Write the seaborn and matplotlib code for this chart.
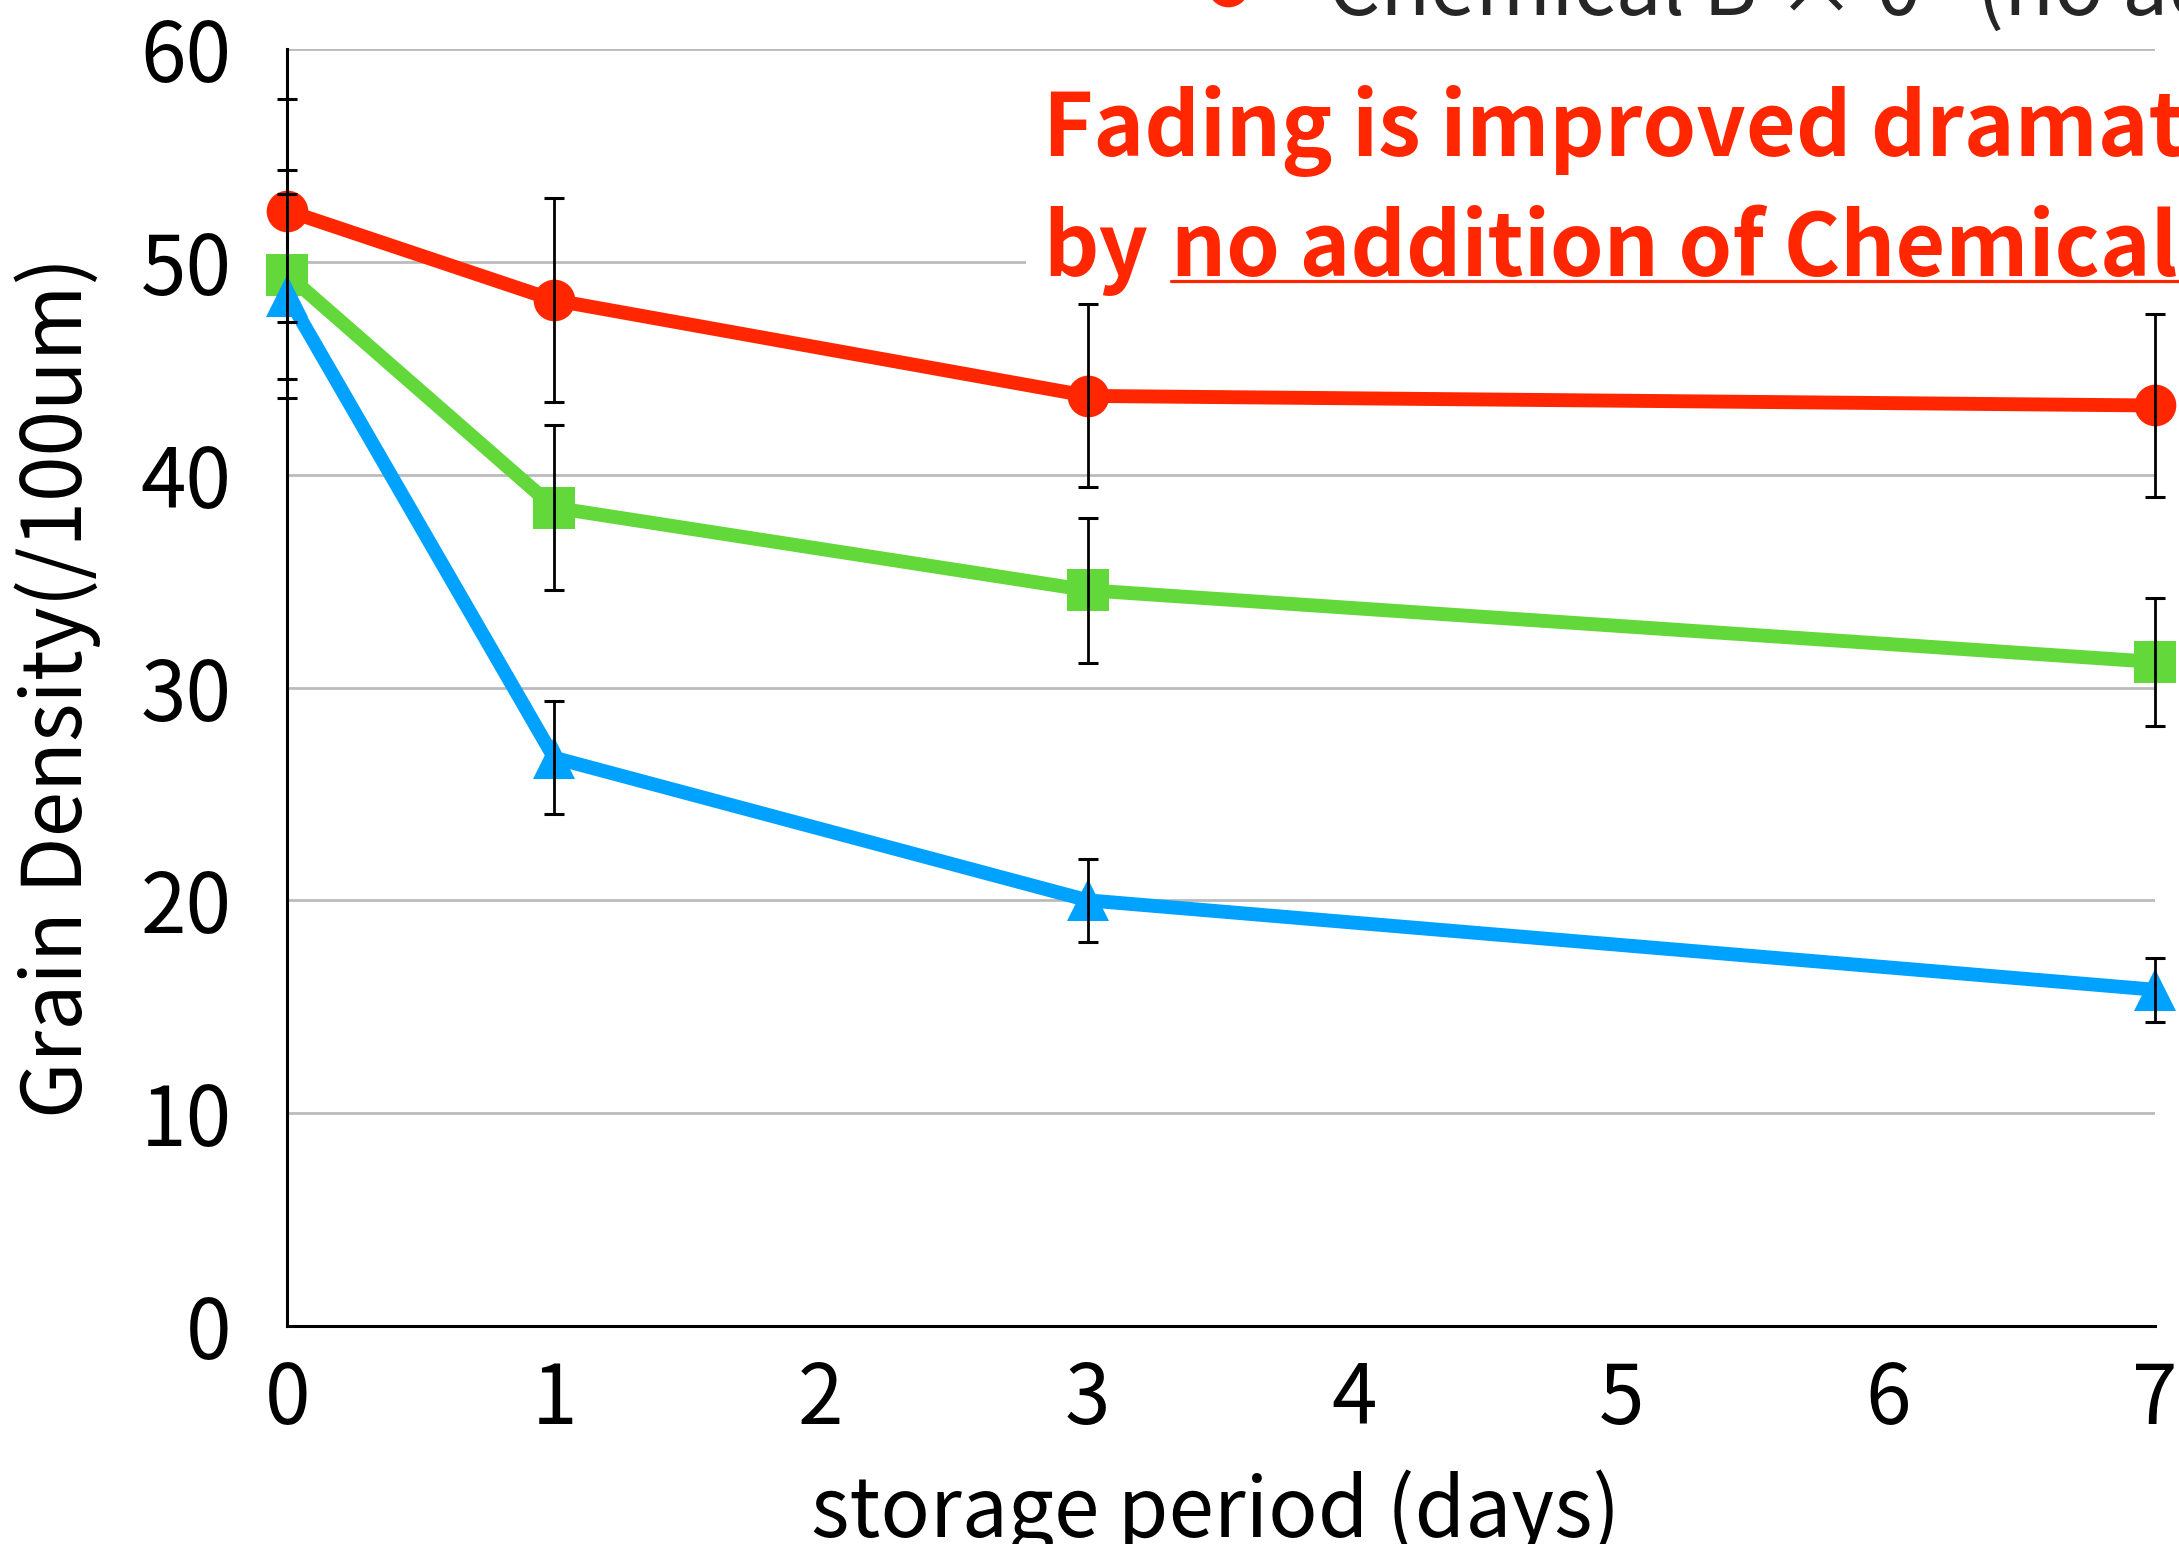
import matplotlib
matplotlib.use("Agg")
import matplotlib.pyplot as plt
import seaborn as sns
from matplotlib.lines import Line2D
from matplotlib.patches import Rectangle

# ---- data ----
days = [0, 1, 3, 7]
chem_b0 = [52.4, 48.2, 43.7, 43.25]
chem_b0_sd = [5.25, 4.8, 4.3, 4.3]
green_vals = [49.4, 38.45, 34.57, 31.2]
green_sd = [4.9, 3.87, 3.4, 3.0]
blue_vals = [48.4, 26.7, 20.0, 15.8]
blue_sd = [4.8, 2.65, 1.95, 1.5]
x_ticks = [0, 1, 2, 3, 4, 5, 6, 7]
y_ticks = [0, 10, 20, 30, 40, 50, 60]
legend_label = "Chemical B × 0   (no addition)"
note_line1 = "Fading is improved dramatically"
note_by = "by"
note_under = "no addition of Chemical B"

RED = "#FF2600"
GREEN = "#63D83A"
BLUE = "#00A2FF"

sns.set_theme(style="white")
plt.rcParams['font.family'] = ['Noto Sans CJK JP', 'DejaVu Sans']

W, H = 2179, 1544
fig = plt.figure(figsize=(W / 100, H / 100), dpi=100)
x0, x1 = 287.3, 2155.0
y0, y1 = 1326.0, 49.0
ax = fig.add_axes([x0 / W, 1 - y0 / H, (x1 - x0) / W, (y0 - y1) / H])

LW = 10
MS = 30
FS = 59
for vals, col, mk in [(green_vals, GREEN, 's'), (blue_vals, BLUE, '^'), (chem_b0, RED, 'o')]:
    sns.lineplot(x=days, y=vals, ax=ax, color=col, linewidth=LW, marker=mk,
                 markersize=MS, markeredgewidth=0, clip_on=False, zorder=3)

for vals, sd in [(green_vals, green_sd), (blue_vals, blue_sd), (chem_b0, chem_b0_sd)]:
    ax.errorbar(days, vals, yerr=sd, fmt='none', ecolor='black', elinewidth=2,
                capsize=7, capthick=2.2, zorder=10, clip_on=False)

ax.set_xlim(0, 7)
ax.set_ylim(0, 60)
ax.set_xticks(x_ticks)
ax.set_yticks(y_ticks)
ax.tick_params(axis='both', length=0, labelsize=FS, colors='black')
ax.tick_params(axis='x', pad=23)
ax.tick_params(axis='y', pad=40)

ax.set_axisbelow(True)
ax.yaxis.grid(True, color='#BBBBBB', linewidth=2)
ax.xaxis.grid(False)
for s in ['top', 'right']:
    ax.spines[s].set_visible(False)
for s in ['left', 'bottom']:
    ax.spines[s].set_color('black')
    ax.spines[s].set_linewidth(2.2)

ax.set_ylabel("Grain Density(/100um)", fontsize=FS, color='black')
ax.yaxis.set_label_coords(-0.100, 0.5)
ax.set_xlabel("storage period (days)", fontsize=FS, color='black')
ax.xaxis.set_label_coords(0.497, -0.112)

# white panel behind the annotation
ax.add_patch(Rectangle((0.3955, 0.805), 0.7, 0.162, transform=ax.transAxes,
                       facecolor='white', edgecolor='none', zorder=1, clip_on=False))

# legend (only the visible entry)
handle = Line2D([], [], marker='o', ls='none', color=RED, markersize=MS, markeredgewidth=0)
fig.legend([handle], [legend_label], loc='center left',
           bbox_to_anchor=(1187 / W, 1 + 9 / H), frameon=False, fontsize=FS,
           handlelength=1, handletextpad=0.72, borderpad=0, borderaxespad=0)

# annotation
fs = 62
fig.text(1043 / W, 1 - 156 / H, note_line1, color=RED, fontsize=fs, fontweight='bold',
         va='baseline', ha='left')
fig.text(1043 / W, 1 - 276 / H, note_by, color=RED, fontsize=fs, fontweight='bold',
         va='baseline', ha='left')
fig.text(1171 / W, 1 - 276 / H, note_under, color=RED, fontsize=fs, fontweight='bold',
         va='baseline', ha='left')
fig.add_artist(Line2D([1171 / W, 1.05], [1 - 281 / H, 1 - 281 / H], transform=fig.transFigure,
                      color=RED, linewidth=2.3))

fig.savefig("out.png", dpi=100)
